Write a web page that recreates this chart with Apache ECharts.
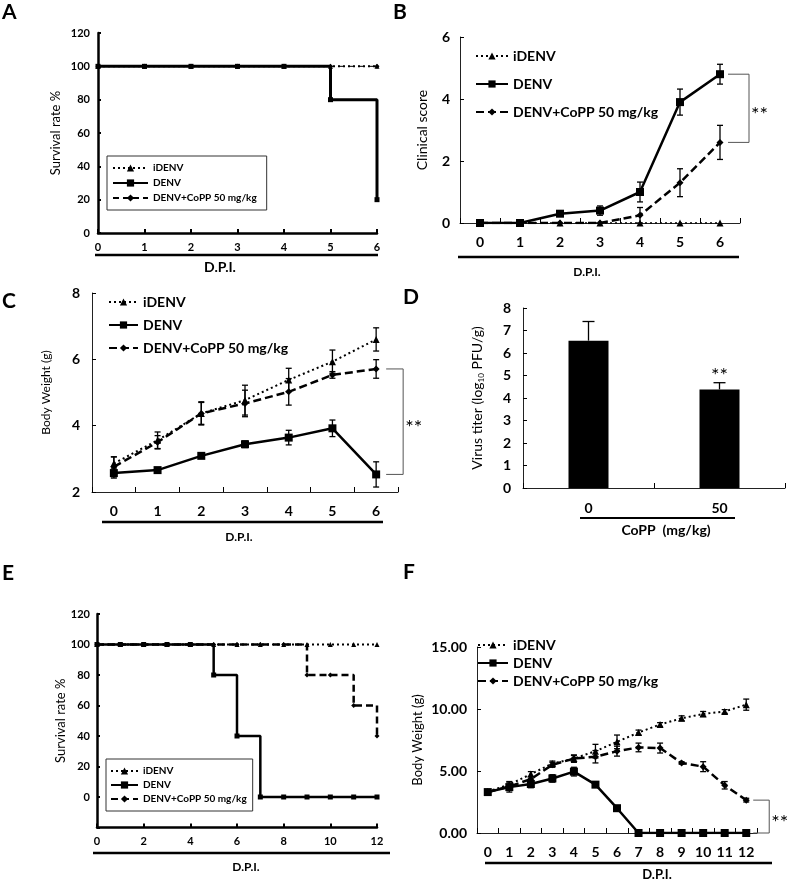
<!DOCTYPE html>
<html><head><meta charset="utf-8">
<script src="https://cdn.jsdelivr.net/npm/echarts@6/dist/echarts.min.js"></script>
<style>html,body{margin:0;padding:0;background:#fff}#c{width:787px;height:881px}</style>
</head><body><div id="c"></div>
<script>
const FONT = 'Lato';
// ---------- Panel A: survival, 6 days ----------
const daysA = [0,1,2,3,4,5,6];
const survA_iDENV = [100,100,100,100,100,100,100];
const survA_DENV  = [100,100,100,100,100,80,20];
const survA_CoPP  = [100,100,100,100,100,100,100];
// ---------- Panel B: clinical score ----------
const dpiB = ['0','1','2','3','4','5','6'];
const scoreB_iDENV = [0,0,0,0,0,0,0];
const scoreB_DENV = [0,0,0.3,0.4,1.0,3.9,4.8];
const scoreB_DENV_err = [0,0,0.05,0.15,0.32,0.42,0.32];
const scoreB_CoPP = [0,0,0,0,0.25,1.3,2.6];
const scoreB_CoPP_err = [0,0,0,0,0.25,0.45,0.55];
// ---------- Panel C: body weight, 6 days ----------
const dpiC = ['0','1','2','3','4','5','6'];
const bwC_iDENV = [2.86,3.56,4.37,4.77,5.38,5.93,6.6];
const bwC_iDENV_err = [0.2,0.25,0.35,0.45,0.35,0.35,0.35];
const bwC_DENV = [2.57,2.66,3.09,3.44,3.64,3.92,2.53];
const bwC_DENV_err = [0.15,0.06,0.05,0.1,0.22,0.25,0.38];
const bwC_CoPP = [2.76,3.5,4.37,4.67,5.02,5.53,5.71];
const bwC_CoPP_err = [0.3,0.2,0.33,0.4,0.4,0.1,0.28];
// ---------- Panel D: virus titer ----------
const coppDose = ['0','50'];
const titerD = [6.55,4.38];
const titerD_err = [0.85,0.3];
// ---------- Panel E: survival, 12 days ----------
const daysE = [0,1,2,3,4,5,6,7,8,9,10,11,12];
const survE_iDENV = [100,100,100,100,100,100,100,100,100,100,100,100,100];
const survE_DENV  = [100,100,100,100,100,80,40,0,0,0,0,0,0];
const survE_CoPP  = [100,100,100,100,100,100,100,100,100,80,80,60,40];
// ---------- Panel F: body weight, 12 days ----------
const dpiF = ['0','1','2','3','4','5','6','7','8','9','10','11','12'];
const bwF_iDENV = [3.35,3.9,4.75,5.6,6.0,6.6,7.35,8.1,8.75,9.25,9.6,9.8,10.35];
const bwF_iDENV_err = [0.15,0.25,0.2,0.2,0.25,0.55,0.55,0.2,0.15,0.2,0.2,0.15,0.45];
const bwF_DENV = [3.3,3.7,3.95,4.4,4.95,3.9,2.0,0,0,0,0,0,0];
const bwF_DENV_err = [0.1,0.4,0.3,0.3,0.35,0.1,0.1,0,0,0,0,0,0];
const bwF_CoPP = [3.3,3.75,4.35,5.5,6.0,6.15,6.6,6.9,6.85,5.65,5.35,3.85,2.65];
const bwF_CoPP_err = [0.1,0.2,0.2,0.2,0.3,0.5,0.4,0.35,0.4,0.1,0.4,0.3,0.15];

const BLACK = '#000';
const lab = (fs, extra) => Object.assign({fontFamily: FONT, fontWeight: 'bold', fontSize: fs, color: BLACK}, extra || {});
const nameStyle = (fs) => ({fontFamily: FONT, fontSize: fs, color: BLACK});
const pairs = (xs, ys) => xs.map((x, i) => [x, ys[i]]);
const errData = (ys, es) => ys.map((y, i) => [i, y, es[i]]);

function errRender(capW, upOnly) {
  return function (params, api) {
    const x = api.value(0), y = api.value(1), e = api.value(2);
    if (!e) return null;
    const hi = api.coord([x, y + e]);
    const lo = api.coord([x, upOnly ? y : y - e]);
    const style = {stroke: BLACK, lineWidth: 1.3};
    const ch = [
      {type: 'line', shape: {x1: hi[0], y1: hi[1], x2: lo[0], y2: lo[1]}, style: style},
      {type: 'line', shape: {x1: hi[0] - capW, y1: hi[1], x2: hi[0] + capW, y2: hi[1]}, style: style}
    ];
    if (!upOnly) ch.push({type: 'line', shape: {x1: lo[0] - capW, y1: lo[1], x2: lo[0] + capW, y2: lo[1]}, style: style});
    else if (api.value(3)) ch.push({type: 'text', style: {text: '**', x: hi[0], y: hi[1] + 3, align: 'center', verticalAlign: 'bottom', fontSize: 20, fontFamily: FONT, fill: BLACK}});
    return {type: 'group', children: ch};
  };
}
function bracketRender(o1, o2, fs) {
  return function (params, api) {
    const p1 = api.coord([api.value(0), api.value(1)]);
    const p2 = api.coord([api.value(0), api.value(2)]);
    const xa = p1[0] + o1, xb = p1[0] + o2;
    return {type: 'group', children: [
      {type: 'polyline', shape: {points: [[xa, p1[1]], [xb, p1[1]], [xb, p2[1]], [xa, p2[1]]]}, style: {stroke: '#555', fill: null, lineWidth: 1}},
      {type: 'text', style: {text: '**', x: xb + 2, y: (p1[1] + p2[1]) / 2 + 6, align: 'left', verticalAlign: 'middle', fontSize: fs, fontFamily: FONT, fill: BLACK}}
    ]};
  };
}

function sI(name, xi, data, w, ss) { return {type: 'line', name: name, xAxisIndex: xi, yAxisIndex: xi, data: data, symbol: 'triangle', symbolSize: ss, itemStyle: {color: BLACK}, lineStyle: {color: BLACK, width: w, type: [2, 3]}, z: 3}; }
function sD(name, xi, data, w, ss) { return {type: 'line', name: name, xAxisIndex: xi, yAxisIndex: xi, data: data, symbol: 'rect', symbolSize: ss, itemStyle: {color: BLACK}, lineStyle: {color: BLACK, width: w, type: 'solid'}, z: 5}; }
function sC(name, xi, data, w, ss, dash) { return {type: 'line', name: name, xAxisIndex: xi, yAxisIndex: xi, data: data, symbol: 'diamond', symbolSize: ss, itemStyle: {color: BLACK}, lineStyle: {color: BLACK, width: w, type: dash || [8, 4]}, z: 4}; }
function sErr(xi, data, capW, upOnly) { return {type: 'custom', xAxisIndex: xi, yAxisIndex: xi, data: data, renderItem: errRender(capW, upOnly), z: 6, silent: true}; }
function sBr(xi, data, o1, o2, fs) { return {type: 'custom', xAxisIndex: xi, yAxisIndex: xi, data: data, renderItem: bracketRender(o1, o2, fs), z: 6, silent: true, clip: false}; }

const thinLine = {show: true, onZero: false, lineStyle: {color: '#222', width: 1}};
const thickLine = {show: true, onZero: false, lineStyle: {color: BLACK, width: 2.5}};
const tickIn = (len, w) => ({show: true, inside: true, length: len, lineStyle: {color: BLACK, width: w || 1}});

const legendFmt = n => n.split('#')[0];
function legend(panel, left, top, fs, iw, gap, boxed) {
  const l = {
    orient: 'vertical', left: left, top: top, itemWidth: iw, itemHeight: 9, itemGap: gap,
    data: ['iDENV#' + panel, 'DENV#' + panel, 'DENV+CoPP 50 mg/kg#' + panel],
    formatter: legendFmt, textStyle: lab(fs), selectedMode: false, padding: 0
  };
  if (boxed) { l.borderColor = '#333'; l.borderWidth = 1; l.padding = boxed; l.backgroundColor = '#fff'; }
  return l;
}

const option = {
  animation: false,
  backgroundColor: '#fff',
  title: [
    {text: 'A', left: 2, top: 2}, {text: 'B', left: 393, top: 2},
    {text: 'C', left: 2, top: 291}, {text: 'D', left: 403, top: 287},
    {text: 'E', left: 2, top: 563}, {text: 'F', left: 403, top: 562}
  ].map(t => Object.assign(t, {padding: 0, textStyle: {fontFamily: FONT, fontWeight: 'bold', fontSize: 21, color: BLACK}})),
  grid: [
    {left: 98, top: 33, width: 279, height: 200},
    {left: 460, top: 37, width: 280, height: 186},
    {left: 92, top: 293, width: 306, height: 199},
    {left: 523, top: 308, width: 262, height: 180},
    {left: 97, top: 614, width: 280, height: 213.5},
    {left: 477, top: 647, width: 280, height: 186}
  ],
  xAxis: [
    {gridIndex: 0, type: 'value', min: 0, max: 6, interval: 1, axisLine: thickLine, axisTick: tickIn(4, 2), axisLabel: lab(11, {margin: 9}), splitLine: {show: false}},
    {gridIndex: 1, type: 'category', data: dpiB, axisLine: thinLine, axisTick: tickIn(5), axisLabel: lab(14, {margin: 12}), splitLine: {show: false}},
    {gridIndex: 2, type: 'category', data: dpiC, axisLine: thinLine, axisTick: tickIn(5), axisLabel: lab(14, {margin: 12}), splitLine: {show: false}},
    {gridIndex: 3, type: 'category', data: coppDose, axisLine: thinLine, axisTick: tickIn(5), axisLabel: lab(14, {margin: 13}), splitLine: {show: false}},
    {gridIndex: 4, type: 'value', min: 0, max: 12, interval: 2, axisLine: thickLine, axisTick: tickIn(4, 2), axisLabel: lab(11, {margin: 8}), splitLine: {show: false}},
    {gridIndex: 5, type: 'category', data: dpiF, axisLine: thinLine, axisTick: tickIn(5), axisLabel: lab(14, {margin: 12, interval: 0}), splitLine: {show: false}}
  ],
  yAxis: [
    {gridIndex: 0, type: 'value', min: 0, max: 120, interval: 20, axisLine: thickLine, axisTick: tickIn(3, 2), axisLabel: lab(11, {margin: 8}), splitLine: {show: false},
      name: 'Survival rate %', nameLocation: 'middle', nameGap: 36, nameTextStyle: nameStyle(13)},
    {gridIndex: 1, type: 'value', min: 0, max: 6, interval: 2, axisLine: thinLine, axisTick: tickIn(4), axisLabel: lab(14, {margin: 10}), splitLine: {show: false},
      name: 'Clinical score', nameLocation: 'middle', nameGap: 31, nameTextStyle: nameStyle(14)},
    {gridIndex: 2, type: 'value', min: 2, max: 8, interval: 2, axisLine: thinLine, axisTick: tickIn(4), axisLabel: lab(14, {margin: 12}), splitLine: {show: false},
      name: 'Body Weight (g)', nameLocation: 'middle', nameGap: 40, nameTextStyle: nameStyle(12)},
    {gridIndex: 3, type: 'value', min: 0, max: 8, interval: 1, axisLine: thinLine, axisTick: tickIn(4), axisLabel: lab(14, {margin: 12}), splitLine: {show: false},
      name: 'Virus titer (log{sub|10} PFU/g)', nameLocation: 'middle', nameGap: 38,
      nameTextStyle: Object.assign(nameStyle(14), {lineHeight: 16, rich: {sub: {fontFamily: FONT, fontSize: 8, lineHeight: 8, verticalAlign: 'bottom', color: BLACK}}})},
    {gridIndex: 4, type: 'value', min: -20, max: 120, interval: 20, axisLine: thickLine, axisTick: tickIn(3, 2), splitLine: {show: false},
      axisLabel: lab(11, {margin: 7, formatter: v => (v < 0 ? '' : String(v))}),
      name: 'Survival rate %', nameLocation: 'middle', nameGap: 21, nameTextStyle: nameStyle(13)},
    {gridIndex: 5, type: 'value', min: 0, max: 15, interval: 5, axisLine: thinLine, axisTick: tickIn(4), splitLine: {show: false},
      axisLabel: lab(14, {margin: 10, formatter: v => v.toFixed(2)}),
      name: 'Body Weight (g)', nameLocation: 'middle', nameGap: 53, nameTextStyle: nameStyle(13)}
  ],
  legend: [
    legend('A', 107, 156, 10, 35, 5, [7, 10, 7, 5]),
    legend('B', 475, 49, 14, 32, 14),
    legend('C', 108, 295, 14, 29, 9),
    legend('E', 106, 759, 10, 27, 4, [7, 6, 7, 4]),
    legend('F', 477, 638, 14, 30, 4)
  ],
  series: [
    // A
    sC('DENV+CoPP 50 mg/kg#A', 0, pairs(daysA, survA_CoPP), 1, 5, [6, 4]),
    sI('iDENV#A', 0, pairs(daysA, survA_iDENV), 2, 5),
    Object.assign(sD('DENV#A', 0, pairs(daysA, survA_DENV), 3, 5), {step: 'end'}),
    // B
    sI('iDENV#B', 1, scoreB_iDENV, 1.5, 7),
    sD('DENV#B', 1, scoreB_DENV, 2.5, 8),
    sC('DENV+CoPP 50 mg/kg#B', 1, scoreB_CoPP, 2.5, 7),
    sErr(1, errData(scoreB_DENV, scoreB_DENV_err), 3),
    sErr(1, errData(scoreB_CoPP, scoreB_CoPP_err), 3),
    sBr(1, [[6, scoreB_DENV[6], scoreB_CoPP[6]]], 8, 29, 20),
    // C
    sI('iDENV#C', 2, bwC_iDENV, 2, 7),
    sD('DENV#C', 2, bwC_DENV, 2.5, 8),
    sC('DENV+CoPP 50 mg/kg#C', 2, bwC_CoPP, 2.5, 7),
    sErr(2, errData(bwC_iDENV, bwC_iDENV_err), 3),
    sErr(2, errData(bwC_DENV, bwC_DENV_err), 3),
    sErr(2, errData(bwC_CoPP, bwC_CoPP_err), 3),
    sBr(2, [[6, bwC_CoPP[6], bwC_DENV[6]]], 10, 27, 20),
    // D
    {type: 'bar', xAxisIndex: 3, yAxisIndex: 3, data: titerD, barWidth: 40, itemStyle: {color: BLACK}},
    sErr(3, titerD.map((v, i) => [i, v, titerD_err[i], i === 1 ? 1 : 0]), 6, true),
    // E
    Object.assign(sI('iDENV#E', 4, pairs(daysE, survE_iDENV), 2, 5), {z: 2}),
    Object.assign(sC('DENV+CoPP 50 mg/kg#E', 4, pairs(daysE, survE_CoPP), 2.5, 5, [7, 4]), {step: 'end', z: 3}),
    Object.assign(sD('DENV#E', 4, pairs(daysE, survE_DENV), 2.5, 5), {step: 'end'}),
    // F
    sI('iDENV#F', 5, bwF_iDENV, 2, 7),
    sD('DENV#F', 5, bwF_DENV, 2.5, 8),
    sC('DENV+CoPP 50 mg/kg#F', 5, bwF_CoPP, 2.5, 7),
    sErr(5, errData(bwF_iDENV, bwF_iDENV_err), 3),
    sErr(5, errData(bwF_DENV, bwF_DENV_err), 3),
    sErr(5, errData(bwF_CoPP, bwF_CoPP_err), 3),
    sBr(5, [[12, bwF_CoPP[12], bwF_DENV[12]]], 7, 23, 20)
  ],
  graphic: [
    {type: 'line', shape: {x1: 95, y1: 255, x2: 378, y2: 255}, style: {stroke: BLACK, lineWidth: 2.5}},
    {type: 'line', shape: {x1: 458, y1: 257, x2: 739, y2: 257}, style: {stroke: BLACK, lineWidth: 2.5}},
    {type: 'line', shape: {x1: 102, y1: 522, x2: 383, y2: 522}, style: {stroke: BLACK, lineWidth: 2.5}},
    {type: 'line', shape: {x1: 580, y1: 518, x2: 735, y2: 518}, style: {stroke: BLACK, lineWidth: 2}},
    {type: 'line', shape: {x1: 93, y1: 853, x2: 390, y2: 853}, style: {stroke: BLACK, lineWidth: 2.5}},
    {type: 'line', shape: {x1: 485, y1: 863, x2: 772, y2: 863}, style: {stroke: BLACK, lineWidth: 2.5}},
    {type: 'text', x: 220, y: 267, style: {text: 'D.P.I.', align: 'center', verticalAlign: 'middle', font: 'bold 14px Lato', fill: BLACK}},
    {type: 'text', x: 587, y: 272, style: {text: 'D.P.I.', align: 'center', verticalAlign: 'middle', font: 'bold 12px Lato', fill: BLACK}},
    {type: 'text', x: 239, y: 537, style: {text: 'D.P.I.', align: 'center', verticalAlign: 'middle', font: 'bold 12px Lato', fill: BLACK}},
    {type: 'text', x: 666, y: 530, style: {text: 'CoPP  (mg/kg)', align: 'center', verticalAlign: 'middle', font: 'bold 14px Lato', fill: BLACK}},
    {type: 'text', x: 246, y: 867, style: {text: 'D.P.I.', align: 'center', verticalAlign: 'middle', font: 'bold 12px Lato', fill: BLACK}},
    {type: 'text', x: 657, y: 875, style: {text: 'D.P.I.', align: 'center', verticalAlign: 'middle', font: 'bold 13px Lato', fill: BLACK}}
  ]
};
const chart = echarts.init(document.getElementById('c'));
chart.setOption(option);
</script>
</body></html>
